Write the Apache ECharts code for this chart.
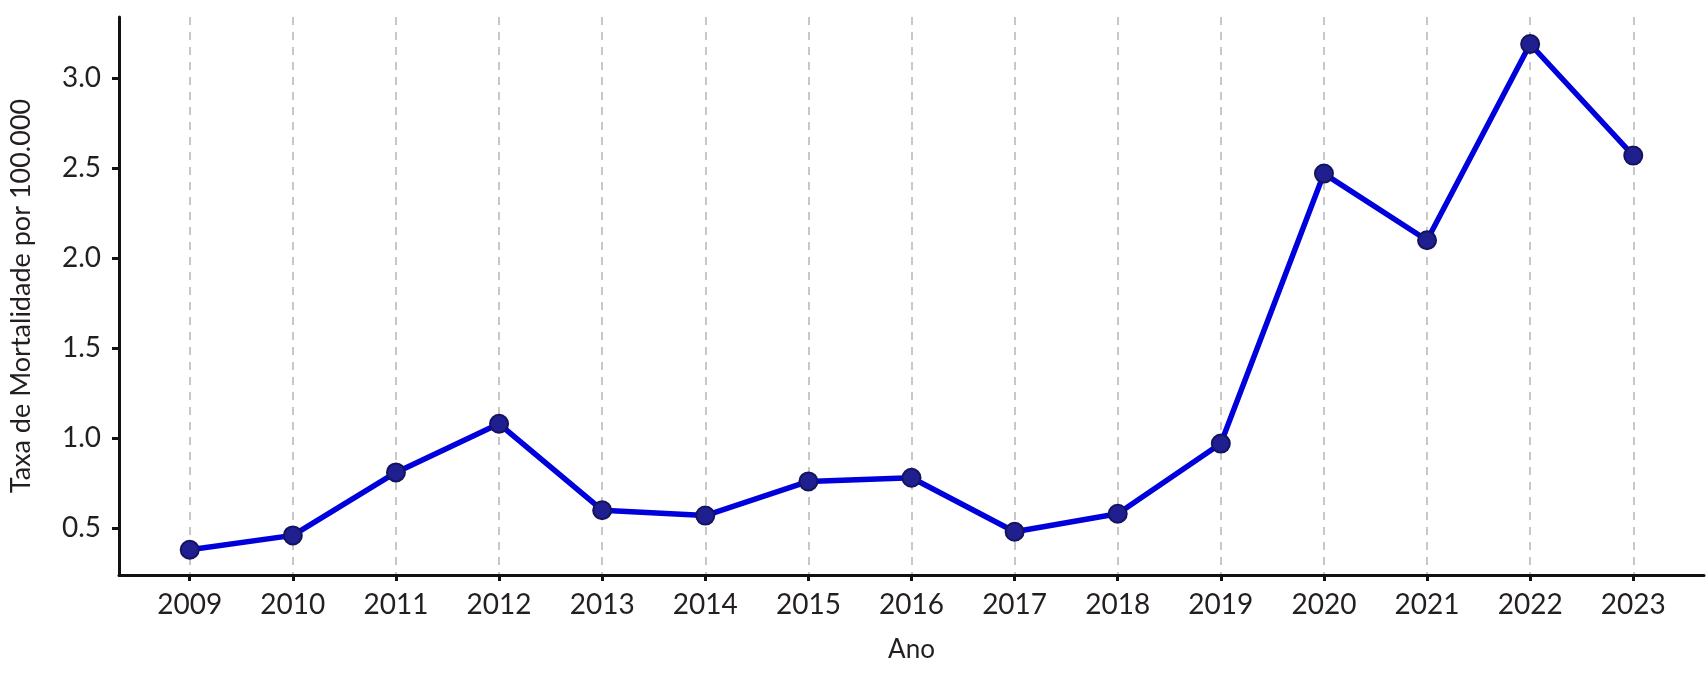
<!DOCTYPE html>
<html>
<head>
<meta charset="utf-8">
<script src="https://cdn.jsdelivr.net/npm/echarts@6/dist/echarts.min.js"></script>
<style>
  html, body { margin: 0; padding: 0; background: #fff; }
  #chart { width: 1708px; height: 677px; }
</style>
</head>
<body>
<div id="chart"></div>
<script>
// anos e taxas
var years = [2009, 2010, 2011, 2012, 2013, 2014, 2015, 2016, 2017, 2018, 2019, 2020, 2021, 2022, 2023];
var rates = [0.38, 0.46, 0.81, 1.08, 0.60, 0.57, 0.76, 0.78, 0.48, 0.58, 0.97, 2.47, 2.10, 3.19, 2.57];
var yTicks = [0.5, 1.0, 1.5, 2.0, 2.5, 3.0];

var textColor = '#231f20';
var fontFamily = 'Lato, "Open Sans", sans-serif';

var chart = echarts.init(document.getElementById('chart'));

var seriesData = years.map(function (y, i) {
    return [y, rates[i]];
});

var option = {
    backgroundColor: '#fff',
    animation: false,
    grid: {
        left: 113,
        right: 4,
        top: 17,
        bottom: 102,
        containLabel: false
    },
    xAxis: {
        type: 'value',
        min: 2008.314,
        max: 2023.686,
        name: 'Ano',
        nameLocation: 'middle',
        nameGap: 62,
        nameTextStyle: { color: textColor, fontSize: 26, fontFamily: fontFamily },
        axisLine: { show: true, lineStyle: { color: '#111', width: 3 } },
        axisTick: {
            show: true,
            customValues: years,
            length: 6,
            lineStyle: { color: '#111', width: 3 }
        },
        axisLabel: {
            customValues: years,
            color: textColor,
            fontSize: 28,
            fontFamily: fontFamily,
            margin: 16,
            formatter: function (v) { return String(v); }
        },
        splitLine: {
            show: true,
            lineStyle: { color: '#c8c8c8', width: 2, type: [8, 7] }
        }
    },
    yAxis: {
        type: 'value',
        min: 0.24,
        max: 3.34,
        name: 'Taxa de Mortalidade por 100.000',
        nameLocation: 'middle',
        nameGap: 84,
        nameTextStyle: { color: textColor, fontSize: 27, fontFamily: fontFamily },
        axisLine: { show: true, lineStyle: { color: '#111', width: 3 } },
        axisTick: {
            show: true,
            customValues: yTicks,
            length: 7,
            lineStyle: { color: '#111', width: 3 }
        },
        axisLabel: {
            customValues: yTicks,
            color: textColor,
            fontSize: 28,
            fontFamily: fontFamily,
            margin: 18,
            formatter: function (v) { return v.toFixed(1); }
        },
        splitLine: { show: false }
    },
    series: [{
        type: 'line',
        data: seriesData,
        symbol: 'circle',
        symbolSize: 18,
        lineStyle: { color: '#0000dc', width: 5.5 },
        itemStyle: { color: '#1f1f8f', borderColor: '#14145e', borderWidth: 2 },
        z: 3
    }]
};

chart.setOption(option);
</script>
</body>
</html>
